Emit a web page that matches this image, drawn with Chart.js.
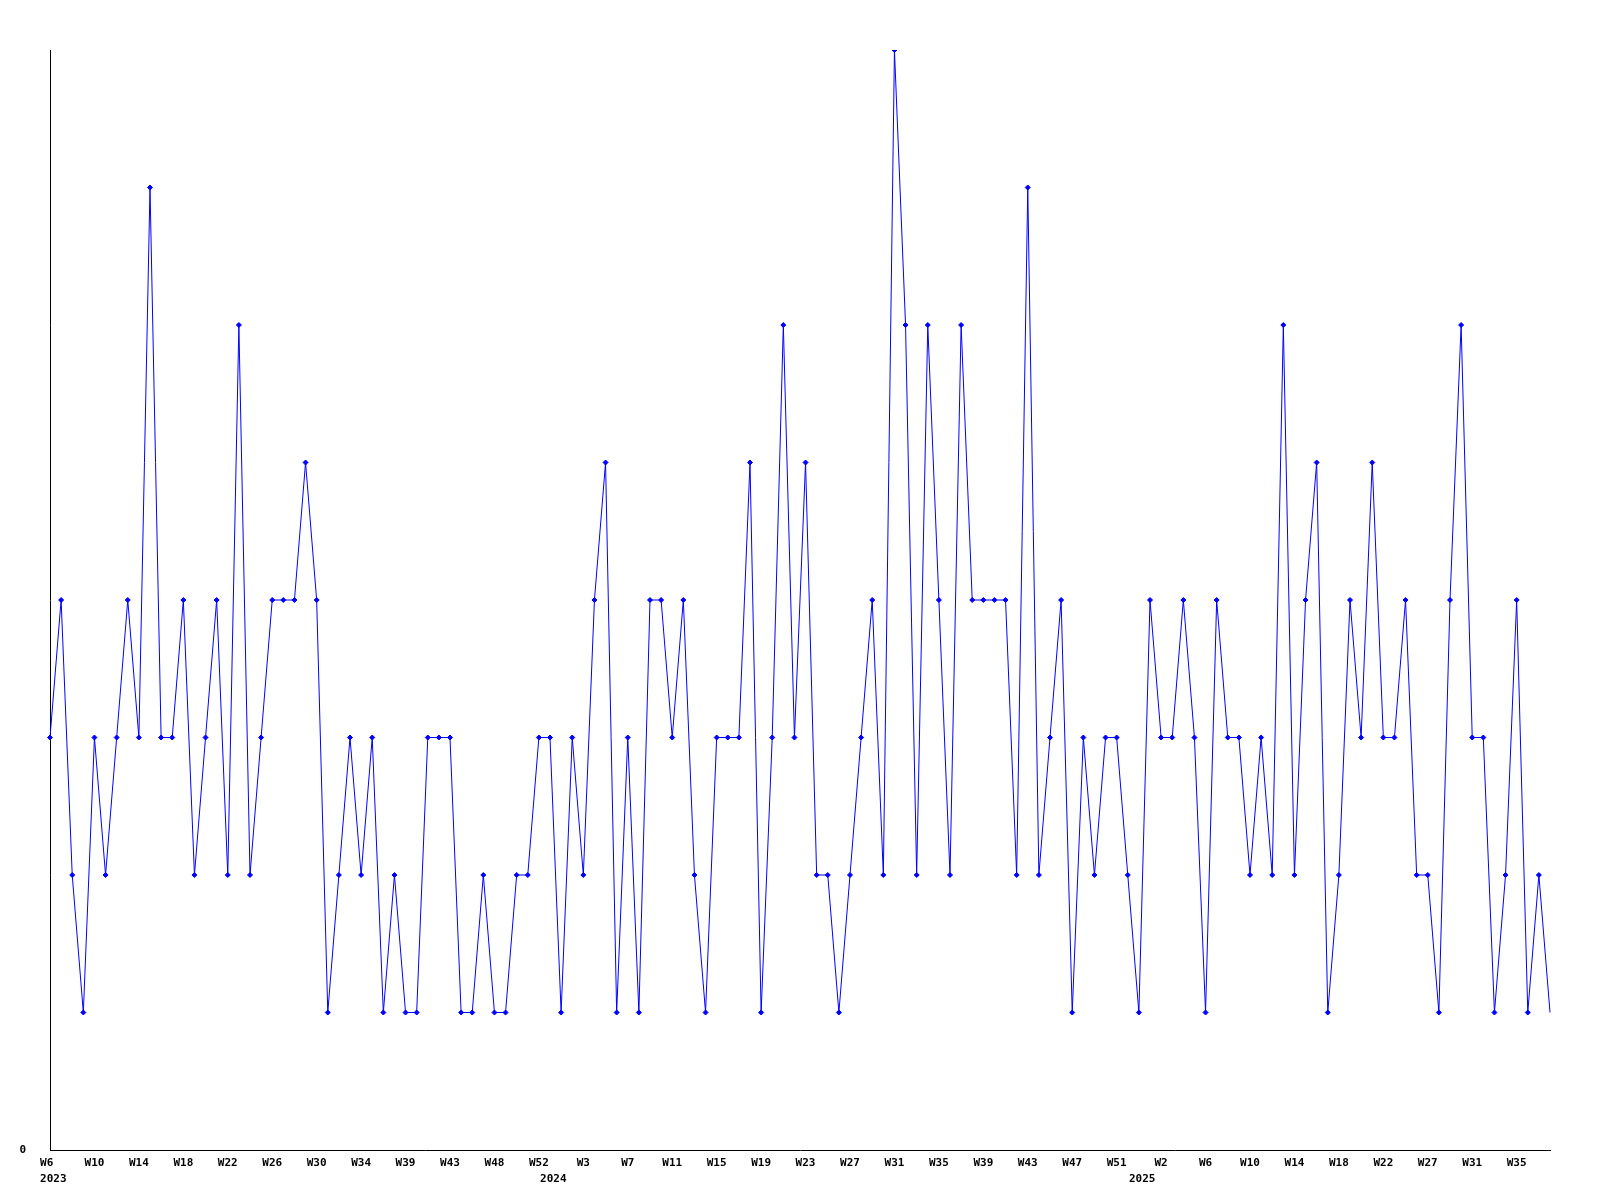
<!DOCTYPE html>
<html>
<head>
<meta charset="utf-8">
<title>Weekly count</title>
<script src="https://cdn.jsdelivr.net/npm/chart.js@4.4.1/dist/chart.umd.min.js"></script>
<style>
  html, body { margin: 0; padding: 0; background: #fff; }
  canvas { display: block; }
</style>
</head>
<body>
<canvas id="chart" width="1600" height="1200"></canvas>
<script>
// one value per week, 2023 W6 .. 2025 (last week still open, no marker)
const values = [
    3, 4, 2, 1, 3, 2, 3, 4, 3, 7, 3, 3, 4, 2, 3, 4, 2, 6, 2, 3,
    4, 4, 4, 5, 4, 1, 2, 3, 2, 3, 1, 2, 1, 1, 3, 3, 3, 1, 1, 2,
    1, 1, 2, 2, 3, 3, 1, 3, 2, 4, 5, 1, 3, 1, 4, 4, 3, 4, 2, 1,
    3, 3, 3, 5, 1, 3, 6, 3, 5, 2, 2, 1, 2, 3, 4, 2, 8, 6, 2, 6,
    4, 2, 6, 4, 4, 4, 4, 2, 7, 2, 3, 4, 1, 3, 2, 3, 3, 2, 1, 4,
    3, 3, 4, 3, 1, 4, 3, 3, 2, 3, 2, 6, 2, 4, 5, 1, 2, 4, 3, 5,
    3, 3, 4, 2, 2, 1, 4, 6, 3, 3, 1, 2, 4, 1, 2, 1
];

// labels shown under every 4th week
const weekTicks = [
    'W6', 'W10', 'W14', 'W18', 'W22', 'W26', 'W30', 'W34', 'W39', 'W43', 'W48', 'W52',
    'W3', 'W7', 'W11', 'W15', 'W19', 'W23', 'W27', 'W31', 'W35', 'W39', 'W43', 'W47', 'W51',
    'W2', 'W6', 'W10', 'W14', 'W18', 'W22', 'W27', 'W31', 'W35'
];
const yearTicks = ['2023', '2024', '2025'];
const yearTickIndex = [0, 45, 98];

const labels = values.map((v, i) => {
    let week = i % 4 === 0 ? weekTicks[i / 4] : '';
    if (i === 0) week += ' '; // first label sits a bit left in the original
    const y = yearTickIndex.indexOf(i);
    if (y >= 0) return [week, ' ' + yearTicks[y]];
    return week;
});

const tickFont = {
    family: '"DejaVu Sans Mono", "Liberation Mono", monospace',
    size: 11,
    weight: 'bold',
    lineHeight: 16 / 11
};

new Chart(document.getElementById('chart').getContext('2d'), {
    type: 'line',
    data: {
        labels: labels,
        datasets: [{
            data: values,
            borderColor: '#0000ff',
            backgroundColor: '#0000ff',
            borderWidth: 1,
            tension: 0,
            fill: false,
            pointStyle: 'rectRot',
            pointRadius: ctx => ctx.dataIndex === values.length - 1 ? 0 : 2.5,
            pointBorderWidth: 1
        }]
    },
    options: {
        responsive: false,
        animation: false,
        devicePixelRatio: 1,
        layout: { padding: { top: 50, right: 50, left: 0, bottom: 0 } },
        plugins: {
            legend: { display: false },
            tooltip: { enabled: false }
        },
        scales: {
            x: {
                offset: false,
                grid: { display: false, drawTicks: false },
                border: { display: true, color: '#000', width: 1 },
                ticks: {
                    autoSkip: false,
                    maxRotation: 0,
                    minRotation: 0,
                    padding: 5,
                    color: '#000',
                    font: tickFont
                },
                afterFit: axis => { axis.height = 50; }
            },
            y: {
                min: 0,
                max: 8,
                grid: { display: false, drawTicks: false },
                border: { display: true, color: '#000', width: 1 },
                ticks: {
                    stepSize: 8,
                    padding: 24,
                    color: '#000',
                    font: tickFont,
                    callback: v => v === 0 ? '0' : ''
                },
                afterFit: axis => { axis.width = 50; }
            }
        }
    }
});
</script>
</body>
</html>
